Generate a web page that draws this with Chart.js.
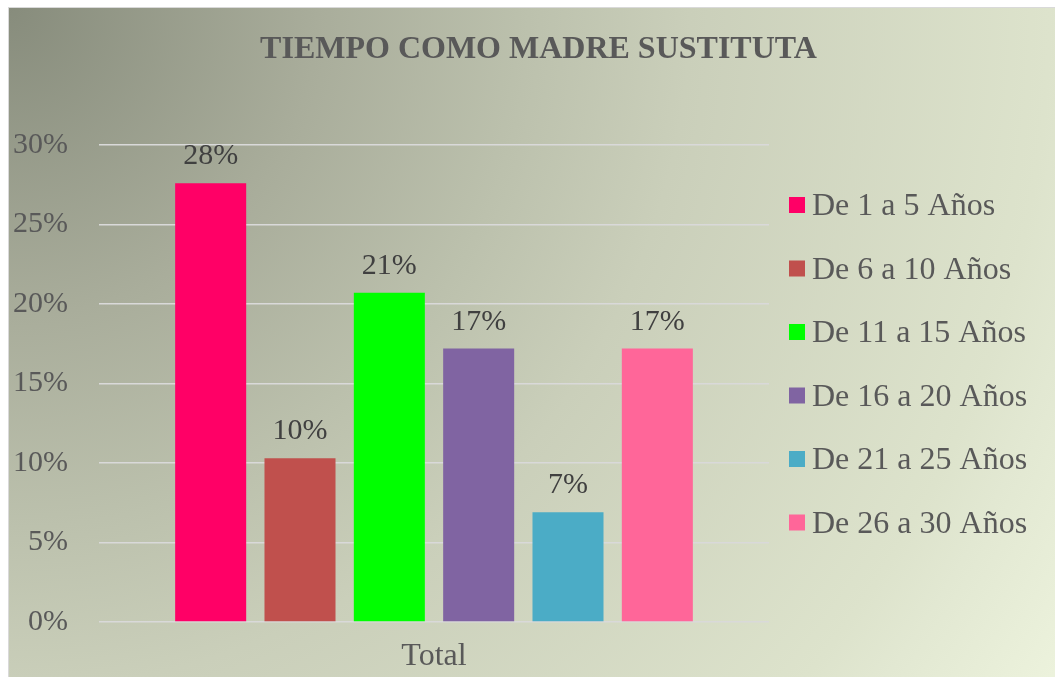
<!DOCTYPE html>
<html>
<head>
<meta charset="utf-8">
<script src="https://cdn.jsdelivr.net/npm/chart.js@4.4.1/dist/chart.umd.min.js"></script>
<style>
  html, body { margin: 0; padding: 0; background: #ffffff; }
  #grafico { display: block; }
</style>
</head>
<body>
<canvas id="grafico" width="1055" height="677"></canvas>
<script>
// datos del grafico
const categorias = ['Total'];
const series = ['De 1 a 5 Años', 'De 6 a 10 Años', 'De 11 a 15 Años', 'De 16 a 20 Años', 'De 21 a 25 Años', 'De 26 a 30 Años'];
const valores = [27.6, 10.3, 20.7, 17.2, 6.9, 17.2];
const etiquetas = ['28%', '10%', '21%', '17%', '7%', '17%'];
const colores = ['#ff0066', '#c0504d', '#00ff00', '#8064a2', '#4bacc6', '#ff6699'];
const titulo = 'TIEMPO COMO MADRE SUSTITUTA';

const fuente = "'Liberation Serif', 'Times New Roman', serif";

// fondo degradado con borde
const fondo = {
    id: 'fondo',
    beforeDraw(chart) {
        const c = chart.ctx;
        c.save();
        c.fillStyle = '#ffffff';
        c.fillRect(0, 0, chart.width, chart.height);
        const g = c.createRadialGradient(8, 7, 0, 8, 7, 1240);
        g.addColorStop(0, '#878c7c');
        g.addColorStop(0.25, '#a9ad9b');
        g.addColorStop(0.42, '#bcc1ad');
        g.addColorStop(0.55, '#cacfba');
        g.addColorStop(0.84, '#dde3cc');
        g.addColorStop(0.89, '#e2e8d2');
        g.addColorStop(1, '#ecf2dc');
        c.fillStyle = g;
        c.fillRect(8, 7, chart.width - 8, chart.height - 7);
        c.strokeStyle = '#d9d9d9';
        c.lineWidth = 1;
        c.strokeRect(8.5, 7.5, chart.width - 8, chart.height - 7);
        c.restore();
    }
};

// titulo, leyenda y etiquetas de datos
const textos = {
    id: 'textos',
    afterDatasetsDraw(chart) {
        const c = chart.ctx;
        c.save();
        c.textBaseline = 'alphabetic';

        // etiquetas sobre las barras
        c.font = '30px ' + fuente;
        c.fillStyle = '#404040';
        c.textAlign = 'center';
        chart.data.datasets.forEach((ds, i) => {
            const bar = chart.getDatasetMeta(i).data[0];
            c.fillText(etiquetas[i], bar.x, bar.y - 19);
        });

        // titulo
        c.font = 'bold 32px ' + fuente;
        c.fillStyle = '#595959';
        c.fillText(titulo, 538.5, 58);

        // leyenda
        c.textAlign = 'left';
        c.font = '32px ' + fuente;
        chart.data.datasets.forEach((ds, i) => {
            const y = 197 + i * 63.5;
            c.fillStyle = ds.backgroundColor;
            c.fillRect(789, y, 16, 16);
            c.fillStyle = '#595959';
            c.fillText(ds.label, 812, y + 18);
        });
        c.restore();
    }
};

const datasets = series.map((nombre, i) => ({
    label: nombre,
    data: [valores[i]],
    backgroundColor: colores[i],
    borderWidth: 0,
    categoryPercentage: 0.8,
    barPercentage: 0.795
}));

new Chart(document.getElementById('grafico'), {
    type: 'bar',
    data: {
        labels: categorias,
        datasets: datasets
    },
    options: {
        responsive: false,
        animation: false,
        layout: {
            padding: { top: 145, right: 286, bottom: 0, left: 0 }
        },
        plugins: {
            legend: { display: false },
            title: { display: false },
            tooltip: { enabled: false }
        },
        scales: {
            x: {
                grid: { display: false, drawTicks: false },
                border: { display: false },
                ticks: {
                    color: '#595959',
                    padding: 19,
                    font: { family: fuente, size: 32, lineHeight: 1 }
                },
                afterFit(scale) { scale.height = 55; }
            },
            y: {
                min: 0,
                max: 30,
                grid: { color: '#d9d9d9', lineWidth: 1.5, drawTicks: false },
                border: { display: false },
                ticks: {
                    stepSize: 5,
                    color: '#595959',
                    padding: 31,
                    font: { family: fuente, size: 30 },
                    callback: (v) => v + '%'
                },
                afterFit(scale) { scale.width = 99; }
            }
        }
    },
    plugins: [fondo, textos]
});
</script>
</body>
</html>
